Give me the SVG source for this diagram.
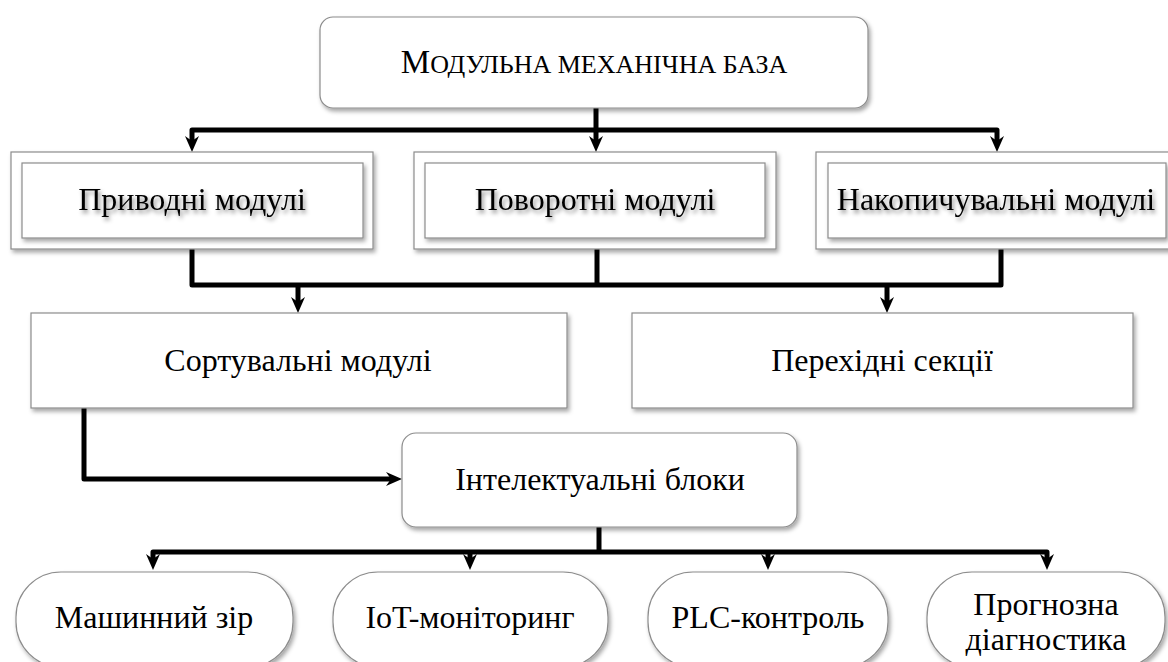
<svg xmlns="http://www.w3.org/2000/svg" width="1168" height="662" viewBox="0 0 1168 662">
  <defs>
    <filter id="shadow" x="-10%" y="-20%" width="130%" height="150%">
      <feDropShadow dx="2" dy="3" stdDeviation="2" flood-color="#000" flood-opacity="0.35"/>
    </filter>
    <filter id="textShadow" x="-10%" y="-30%" width="130%" height="170%">
      <feDropShadow dx="2" dy="3" stdDeviation="2" flood-color="#000" flood-opacity="0.45"/>
    </filter>
    <marker id="arrow" viewBox="0 0 16 16" refX="8" refY="8" markerWidth="16" markerHeight="16" markerUnits="userSpaceOnUse" orient="auto-start-reverse">
      <path d="M0,1 L16,8 L0,15 L5,8 z" fill="#000"/>
    </marker>
  </defs>
  <style>
    .box { fill: #fff; stroke: #8c8c8c; stroke-width: 1.2; filter: url(#shadow); }
    .lbl { font-family: "Liberation Serif", "Times New Roman", serif; font-size: 32px; fill: #000; text-anchor: middle; }
    .lbl-sh { filter: url(#textShadow); }
    .wire { fill: none; stroke: #000; stroke-width: 5; stroke-linejoin: round; stroke-linecap: butt; }
    .arr { marker-end: url(#arrow); }
  </style>
  <rect width="1168" height="662" fill="#fff"/>

  <!-- connectors -->
  <g id="connectors">
    <path class="wire" d="M596,108 V130"/>
    <path class="wire" d="M192,144 V130 H997 V144" marker-start="url(#arrow)" marker-end="url(#arrow)"/>
    <path class="wire arr" d="M596,130 V144"/>
    <path class="wire" d="M192,249 V285 H1001 V249"/>
    <path class="wire" d="M597,249 V285"/>
    <path class="wire arr" d="M298,285 V305"/>
    <path class="wire arr" d="M887,285 V305"/>
    <path class="wire arr" d="M84,408 V479 H394"/>
    <path class="wire" d="M599,527 V552"/>
    <path class="wire" d="M153,562 V552 H1047 V562" marker-start="url(#arrow)" marker-end="url(#arrow)"/>
    <path class="wire arr" d="M470,552 V562"/>
    <path class="wire arr" d="M768,552 V562"/>
  </g>

  <!-- top level -->
  <g id="node-base">
    <rect class="box" x="320" y="17" width="548" height="91" rx="13"/>
    <text class="lbl" x="594" y="73"><tspan font-size="33">М</tspan><tspan font-size="26">ОДУЛЬНА МЕХАНІЧНА БАЗА</tspan></text>
  </g>

  <!-- second row: double-framed module groups -->
  <g id="node-drive">
    <rect class="box" x="11" y="152" width="362" height="97"/>
    <rect class="box" x="22" y="163" width="341" height="75"/>
    <text class="lbl lbl-sh" x="192" y="210">Приводні модулі</text>
  </g>
  <g id="node-rotary">
    <rect class="box" x="414" y="152" width="362" height="97"/>
    <rect class="box" x="425" y="163" width="340" height="75"/>
    <text class="lbl lbl-sh" x="595" y="210">Поворотні модулі</text>
  </g>
  <g id="node-storage">
    <rect class="box" x="816" y="152" width="362" height="97"/>
    <rect class="box" x="828" y="163" width="338" height="75"/>
    <text class="lbl lbl-sh" x="996" y="210">Накопичувальні модулі</text>
  </g>

  <!-- third row -->
  <g id="node-sorting">
    <rect class="box" x="31" y="313" width="536" height="95"/>
    <text class="lbl" x="298" y="371">Сортувальні модулі</text>
  </g>
  <g id="node-transition">
    <rect class="box" x="632" y="313" width="501" height="95"/>
    <text class="lbl" x="882" y="371">Перехідні секції</text>
  </g>

  <!-- intelligent blocks -->
  <g id="node-smart">
    <rect class="box" x="402" y="433" width="395" height="94" rx="14"/>
    <text class="lbl" x="600" y="490">Інтелектуальні блоки</text>
  </g>

  <!-- bottom row -->
  <g id="node-vision">
    <rect class="box" x="16" y="572" width="277" height="95" rx="45"/>
    <text class="lbl" x="154" y="628">Машинний зір</text>
  </g>
  <g id="node-iot">
    <rect class="box" x="333" y="572" width="275" height="95" rx="45"/>
    <text class="lbl" x="470" y="628">IoT-моніторинг</text>
  </g>
  <g id="node-plc">
    <rect class="box" x="648" y="572" width="240" height="95" rx="45"/>
    <text class="lbl" x="768" y="628">PLC-контроль</text>
  </g>
  <g id="node-diag">
    <rect class="box" x="927" y="572" width="238" height="95" rx="45"/>
    <text class="lbl" x="1046" y="615">Прогнозна</text>
    <text class="lbl" x="1046" y="650">діагностика</text>
  </g>
</svg>
